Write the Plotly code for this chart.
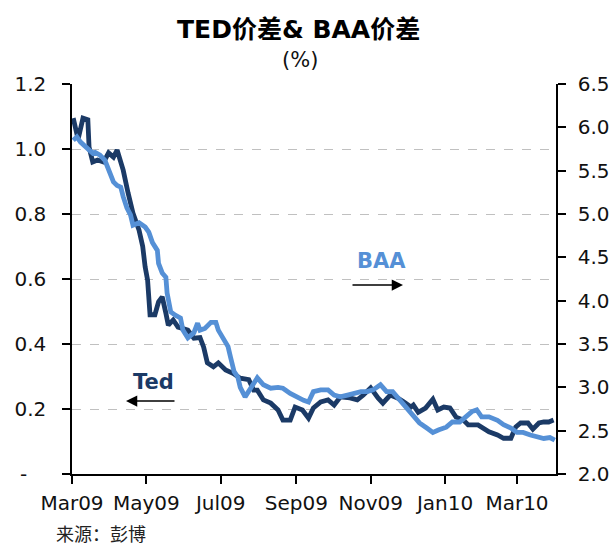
import plotly.graph_objects as go

# ---------------- data ----------------
ted_dates = ["2009-03-02","2009-03-05","2009-03-06","2009-03-10","2009-03-14","2009-03-15","2009-03-18",
             "2009-03-22","2009-03-27","2009-03-31","2009-04-04","2009-04-07","2009-04-10","2009-04-12",
             "2009-04-16","2009-04-20","2009-04-25","2009-04-28","2009-04-30","2009-05-02","2009-05-04",
             "2009-05-08","2009-05-11","2009-05-14","2009-05-17","2009-05-19","2009-05-23","2009-05-27",
             "2009-06-04","2009-06-09","2009-06-14","2009-06-17","2009-06-20","2009-06-25","2009-06-29",
             "2009-07-05","2009-07-11","2009-07-17","2009-07-24","2009-07-28","2009-07-31","2009-08-05",
             "2009-08-11","2009-08-17","2009-08-21","2009-08-27","2009-08-31","2009-09-06","2009-09-11",
             "2009-09-15","2009-09-21","2009-09-27","2009-10-02","2009-10-07","2009-10-15","2009-10-21",
             "2009-10-26","2009-11-01","2009-11-07","2009-11-11","2009-11-17","2009-11-23","2009-11-28",
             "2009-12-04","2009-12-06","2009-12-10","2009-12-16","2009-12-22","2009-12-26","2009-12-31",
             "2010-01-05","2010-01-10","2010-01-16","2010-01-20","2010-01-28","2010-02-01","2010-02-06",
             "2010-02-13","2010-02-18","2010-02-24","2010-02-28","2010-03-04","2010-03-10","2010-03-14",
             "2010-03-19","2010-03-23","2010-03-27","2010-03-31"]
ted_values = [1.095,1.05,1.03,1.095,1.09,1.006,0.96,
              0.966,0.96,0.988,0.975,0.997,0.96,0.935,
              0.865,0.803,0.75,0.70,0.637,0.597,0.49,
              0.49,0.53,0.545,0.495,0.458,0.474,0.452,
              0.443,0.418,0.42,0.39,0.342,0.33,0.342,
              0.32,0.31,0.295,0.29,0.258,0.258,0.228,
              0.218,0.197,0.166,0.166,0.206,0.197,0.172,
              0.203,0.222,0.228,0.212,0.237,0.234,0.228,
              0.243,0.265,0.234,0.218,0.243,0.234,0.222,
              0.206,0.212,0.19,0.203,0.23,0.197,0.206,
              0.203,0.175,0.166,0.151,0.151,0.14,0.13,
              0.12,0.11,0.11,0.145,0.157,0.157,0.138,
              0.157,0.16,0.16,0.166]

baa_dates = ["2009-03-02","2009-03-05","2009-03-08","2009-03-10","2009-03-14","2009-03-18","2009-03-20",
             "2009-03-24","2009-03-28","2009-04-01","2009-04-04","2009-04-07","2009-04-10","2009-04-12",
             "2009-04-15","2009-04-18","2009-04-20","2009-04-25","2009-04-30","2009-05-03","2009-05-06",
             "2009-05-10","2009-05-11","2009-05-14","2009-05-17","2009-05-18","2009-05-21","2009-05-25",
             "2009-05-29","2009-05-31","2009-06-04","2009-06-09","2009-06-12","2009-06-14","2009-06-18",
             "2009-06-23","2009-06-27","2009-06-29","2009-07-03","2009-07-07","2009-07-09","2009-07-12",
             "2009-07-15","2009-07-17","2009-07-21","2009-07-25","2009-07-31","2009-08-05","2009-08-11",
             "2009-08-17","2009-08-21","2009-08-27","2009-09-02","2009-09-07","2009-09-11","2009-09-15",
             "2009-09-21","2009-09-27","2009-10-02","2009-10-07","2009-10-13","2009-10-18","2009-10-24",
             "2009-10-29","2009-11-03","2009-11-09","2009-11-14","2009-11-19","2009-11-25","2009-11-30",
             "2009-12-05","2009-12-11","2009-12-17","2009-12-22","2009-12-27","2010-01-02","2010-01-07",
             "2010-01-13","2010-01-18","2010-01-23","2010-01-27","2010-01-31","2010-02-06","2010-02-13",
             "2010-02-18","2010-02-24","2010-03-01","2010-03-06","2010-03-12","2010-03-17","2010-03-23",
             "2010-03-28","2010-04-01"]
baa_values = [5.85,5.89,5.83,5.80,5.74,5.70,5.71,
              5.68,5.62,5.48,5.37,5.33,5.31,5.20,
              5.07,4.99,4.87,4.90,4.85,4.79,4.67,
              4.58,4.43,4.32,4.27,4.09,3.87,3.83,
              3.80,3.66,3.57,3.63,3.74,3.66,3.68,
              3.75,3.75,3.66,3.55,3.47,3.35,3.18,
              3.12,3.00,2.89,2.97,3.11,3.03,2.99,
              3.00,2.99,2.93,2.88,2.85,2.83,2.95,
              2.97,2.97,2.91,2.89,2.91,2.93,2.95,
              2.95,2.97,3.03,2.95,2.95,2.85,2.76,
              2.68,2.59,2.53,2.48,2.51,2.54,2.60,
              2.60,2.66,2.72,2.74,2.66,2.66,2.62,
              2.57,2.53,2.48,2.48,2.45,2.43,2.41,
              2.42,2.39]

x_tick_vals = ["2009-03-01","2009-05-01","2009-07-01","2009-09-01","2009-11-01","2010-01-01","2010-03-01"]
x_tick_text = ["Mar09","May09","Jul09","Sep09","Nov09","Jan10","Mar10"]
left_tick_vals = [0, 0.2, 0.4, 0.6, 0.8, 1.0, 1.2]
left_tick_text = ["-\u00a0\u00a0\u00a0", "0.2", "0.4", "0.6", "0.8", "1.0", "1.2"]
right_tick_vals = [2.0, 2.5, 3.0, 3.5, 4.0, 4.5, 5.0, 5.5, 6.0, 6.5]
right_tick_text = ["2.0","2.5","3.0","3.5","4.0","4.5","5.0","5.5","6.0","6.5"]

DARK = "#1b3a66"
LIGHT = "#5590d6"
FONT = "DejaVu Sans, Verdana, sans-serif"
MIX = "DejaVu Sans, Noto Sans CJK SC, sans-serif"
CJK = "Noto Sans CJK SC, DejaVu Sans, sans-serif"
TICKSIZE = 20

fig = go.Figure()
fig.add_trace(go.Scatter(x=ted_dates, y=ted_values, mode="lines", name="Ted",
                         line=dict(color=DARK, width=4.8), yaxis="y"))
fig.add_trace(go.Scatter(x=baa_dates, y=baa_values, mode="lines", name="BAA",
                         line=dict(color=LIGHT, width=4.8), yaxis="y2"))

W, H = 611, 546
L, R, T, B = 72, 556, 84, 474

def px(x):
    return (x - L) / (R - L)

def py(y):
    return (B - y) / (B - T)

fig.update_layout(
    width=W, height=H,
    margin=dict(l=L, r=W - R, t=T, b=H - B, pad=0, autoexpand=False),
    paper_bgcolor="white", plot_bgcolor="white",
    showlegend=False,
    font=dict(family=FONT, size=TICKSIZE, color="#111111"),
    xaxis=dict(
        type="date", range=["2009-03-01", "2010-04-02"], automargin=False,
        tickvals=x_tick_vals, ticktext=x_tick_text,
        ticks="outside", ticklen=8, tickwidth=1.5, tickcolor="black",
        showline=True, linecolor="black", linewidth=1.5,
        showgrid=False, zeroline=False, ticklabelstandoff=2,
        tickfont=dict(family=FONT, size=TICKSIZE, color="#111111"),
    ),
    yaxis=dict(
        range=[0, 1.2], tickvals=left_tick_vals, ticktext=left_tick_text, automargin=False,
        ticks="outside", ticklen=8, tickwidth=1.5, tickcolor="black",
        showline=True, linecolor="black", linewidth=1.5,
        showgrid=True, gridcolor="#c0c0c0", gridwidth=1.3, griddash="dash",
        zeroline=False, ticklabelstandoff=12,
        tickfont=dict(family=FONT, size=TICKSIZE, color="#111111"),
    ),
    yaxis2=dict(
        range=[2.0, 6.5], tickvals=right_tick_vals, ticktext=right_tick_text, automargin=False,
        overlaying="y", side="right",
        ticks="outside", ticklen=8, tickwidth=1.5, tickcolor="black",
        showline=True, linecolor="black", linewidth=1.5,
        showgrid=False, zeroline=False, ticklabelstandoff=8,
        tickfont=dict(family=FONT, size=TICKSIZE, color="#111111"),
    ),
)

annotations = [
    dict(text="<b>TED价差& BAA价差</b>", x=px(298), y=py(29), xref="paper", yref="paper",
         showarrow=False, xanchor="center", yanchor="middle",
         font=dict(family=MIX, size=25, color="black")),
    dict(text="(%)", x=px(300), y=py(60), xref="paper", yref="paper",
         showarrow=False, xanchor="center", yanchor="middle",
         font=dict(family=FONT, size=21, color="#111111")),
    dict(text="来源：彭博", x=px(54), y=py(533), xref="paper", yref="paper",
         showarrow=False, xanchor="left", yanchor="middle",
         font=dict(family=CJK, size=18, color="#222222")),
    dict(text="<b>BAA</b>", x=px(381), y=py(261), xref="paper", yref="paper",
         showarrow=False, xanchor="center", yanchor="middle",
         font=dict(family=FONT, size=21, color=LIGHT)),
    dict(text="<b>Ted</b>", x=px(153), y=py(382), xref="paper", yref="paper",
         showarrow=False, xanchor="center", yanchor="middle",
         font=dict(family=FONT, size=21, color=DARK)),
    dict(text="", x=px(403), y=py(285), xref="paper", yref="paper",
         showarrow=True, ax=-52, ay=0, arrowhead=2, arrowsize=1.5, arrowwidth=1.5,
         arrowcolor="black"),
    dict(text="", x=px(126), y=py(401), xref="paper", yref="paper",
         showarrow=True, ax=50, ay=0, arrowhead=2, arrowsize=1.5, arrowwidth=1.5,
         arrowcolor="black"),
]
fig.update_layout(annotations=annotations)

fig.write_html("out.html", config={"displayModeBar": False},
               post_script="document.body.style.margin='0';document.body.style.padding='0';")
